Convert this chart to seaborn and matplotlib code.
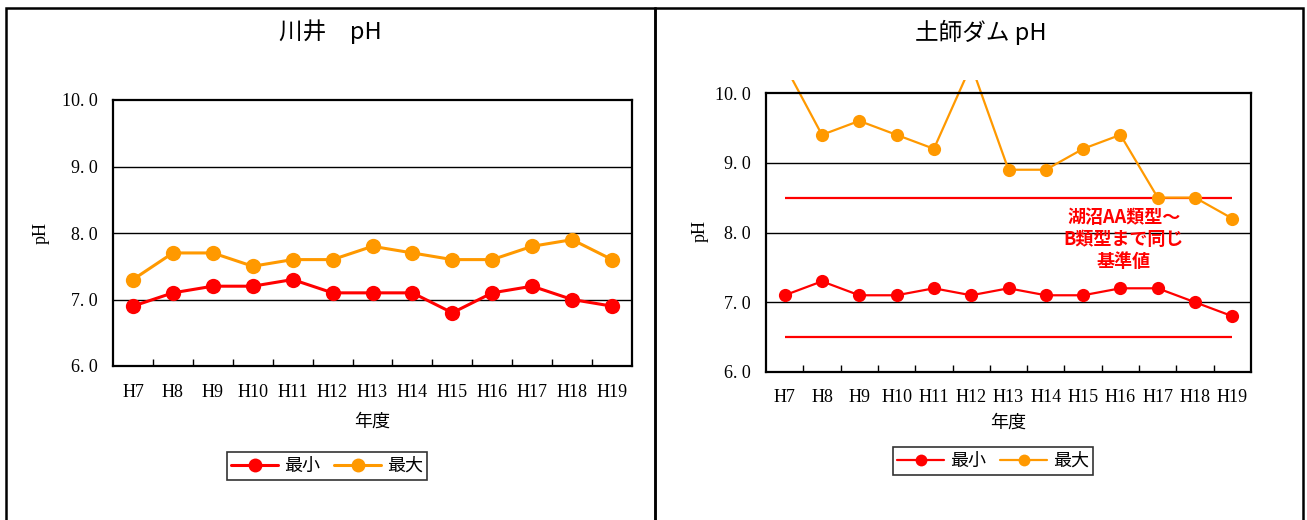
import numpy as np
import pandas as pd
import matplotlib
matplotlib.use("Agg")
import matplotlib.pyplot as plt
from matplotlib.patches import Rectangle
from matplotlib.transforms import Bbox, TransformedBbox
from matplotlib.lines import Line2D
import seaborn as sns

# ---- data ----
years = ["H7", "H8", "H9", "H10", "H11", "H12", "H13", "H14", "H15", "H16", "H17", "H18", "H19"]

kawai_min = [6.9, 7.1, 7.2, 7.2, 7.3, 7.1, 7.1, 7.1, 6.8, 7.1, 7.2, 7.0, 6.9]
kawai_max = [7.3, 7.7, 7.7, 7.5, 7.6, 7.6, 7.8, 7.7, 7.6, 7.6, 7.8, 7.9, 7.6]

haji_min = [7.1, 7.3, 7.1, 7.1, 7.2, 7.1, 7.2, 7.1, 7.1, 7.2, 7.2, 7.0, 6.8]
haji_max = [10.4, 9.4, 9.6, 9.4, 9.2, 10.4, 8.9, 8.9, 9.2, 9.4, 8.5, 8.5, 8.2]

standard_lower = 6.5
standard_upper = 8.5

series_labels = ["最小", "最大"]
yticks = [6.0, 7.0, 8.0, 9.0, 10.0]
ytick_labels = ["6. 0", "7. 0", "8. 0", "9. 0", "10. 0"]

RED = "#FF0000"
ORANGE = "#FF9900"

sns.set_theme(style="white")
plt.rcParams["font.family"] = ["Noto Sans CJK JP", "DejaVu Sans"]
plt.rcParams["text.color"] = "black"
plt.rcParams["xtick.color"] = "black"
plt.rcParams["ytick.color"] = "black"

SERIF = ["Liberation Serif", "DejaVu Serif"]

W, H = 1307, 520
fig = plt.figure(figsize=(W / 100, H / 100), dpi=100)


def px_box(x0, y0, x1, y1):
    """Axes rectangle from pixel edges (top-left origin)."""
    return [x0 / W, (H - y1) / H, (x1 - x0) / W, (y1 - y0) / H]


def long_frame(vmin, vmax):
    return pd.DataFrame({
        "年度": years * 2,
        "pH": vmin + vmax,
        "系列": [series_labels[0]] * len(years) + [series_labels[1]] * len(years),
    })


def draw_panel(ax, df, ms, lw, xpad):
    sns.lineplot(data=df, x="年度", y="pH", hue="系列", sort=False,
                 palette={series_labels[0]: RED, series_labels[1]: ORANGE},
                 marker="o", markersize=ms, markeredgewidth=0, linewidth=lw,
                 ax=ax, legend=False)
    ax.set_xlim(-0.5, len(years) - 0.5)
    ax.set_ylim(6.0, 10.0)
    ax.set_yticks(yticks)
    ax.set_yticklabels(ytick_labels, family=SERIF, fontsize=13)
    ax.set_xticks(range(len(years)))
    ax.set_xticklabels(years, family=SERIF, fontsize=13)
    ax.set_xticks(np.arange(0.5, len(years) - 1, 1.0), minor=True)
    ax.tick_params(axis="x", which="major", bottom=True, length=0, pad=xpad)
    ax.tick_params(axis="x", which="minor", bottom=True, direction="in",
                   length=5, width=1, color="black")
    ax.tick_params(axis="y", length=0, pad=11)
    for v in yticks[1:-1]:
        ax.axhline(v, color="black", lw=1, zorder=0.5)
    for s in ax.spines.values():
        s.set_color("black")
        s.set_linewidth(1.6)
    ax.set_xlabel("")
    ax.set_ylabel("")
    return ax


# ---- left panel: 川井 ----
ax1 = fig.add_axes(px_box(113, 100, 632, 366))
draw_panel(ax1, long_frame(kawai_min, kawai_max), ms=11, lw=2.2, xpad=13)

# ---- right panel: 土師ダム ----
ax2 = fig.add_axes(px_box(766, 93, 1251, 372))
draw_panel(ax2, long_frame(haji_min, haji_max), ms=9.5, lw=1.6, xpad=12)
ax2.hlines([standard_upper, standard_lower], 0, len(years) - 1, color=RED, lw=1.6, zorder=1.5)

# lines may rise a little above the top of the plot area
clip = TransformedBbox(Bbox([[766 / W, (H - 372) / H], [1251 / W, (H - 80) / H]]), fig.transFigure)
for ln in ax2.get_lines():
    ln.set_clip_box(clip)

fig.text(1124 / W, 1 - 208 / H, "湖沼AA類型～\nB類型まで同じ\n基準値",
         ha="center", va="top", color=RED, fontsize=13, fontweight="bold",
         linespacing=1.2)

# ---- titles and axis labels ----
fig.text(330 / W, 1 - 32 / H, "川井　pH", ha="center", va="center", fontsize=17)
fig.text(981 / W, 1 - 32 / H, "土師ダム pH", ha="center", va="center", fontsize=17)

fig.text(372 / W, 1 - 422 / H, "年度", ha="center", va="center", fontsize=13)
fig.text(1008 / W, 1 - 423 / H, "年度", ha="center", va="center", fontsize=13)

fig.text(41 / W, 1 - 233 / H, "pH", ha="center", va="center", rotation=90,
         family=SERIF, fontsize=13)
fig.text(700 / W, 1 - 231 / H, "pH", ha="center", va="center", rotation=90,
         family=SERIF, fontsize=13)

# ---- legends ----
def add_legend(cx, cy, ms, lw):
    handles = [Line2D([], [], color=RED, marker="o", markersize=ms, lw=lw, markeredgewidth=0),
               Line2D([], [], color=ORANGE, marker="o", markersize=ms, lw=lw, markeredgewidth=0)]
    leg = fig.legend(handles, series_labels, loc="center", bbox_to_anchor=(cx / W, 1 - cy / H),
                     ncol=2, frameon=True, fancybox=False, fontsize=13, handlelength=2.6,
                     handletextpad=0.3, columnspacing=0.8, borderpad=0.25, borderaxespad=0)
    leg.get_frame().set_edgecolor("black")
    leg.get_frame().set_linewidth(1.2)
    return leg

add_legend(327, 466, 10, 2.2)
add_legend(993, 461, 8.5, 1.6)

# ---- panel borders ----
for x0, x1 in [(6, 655), (655, 1303)]:
    fig.patches.append(Rectangle((x0 / W, -0.05), (x1 - x0) / W, 1.05 - 8 / H,
                                 transform=fig.transFigure, fill=False,
                                 edgecolor="black", linewidth=1.8))

fig.savefig("out.png", dpi=100)
